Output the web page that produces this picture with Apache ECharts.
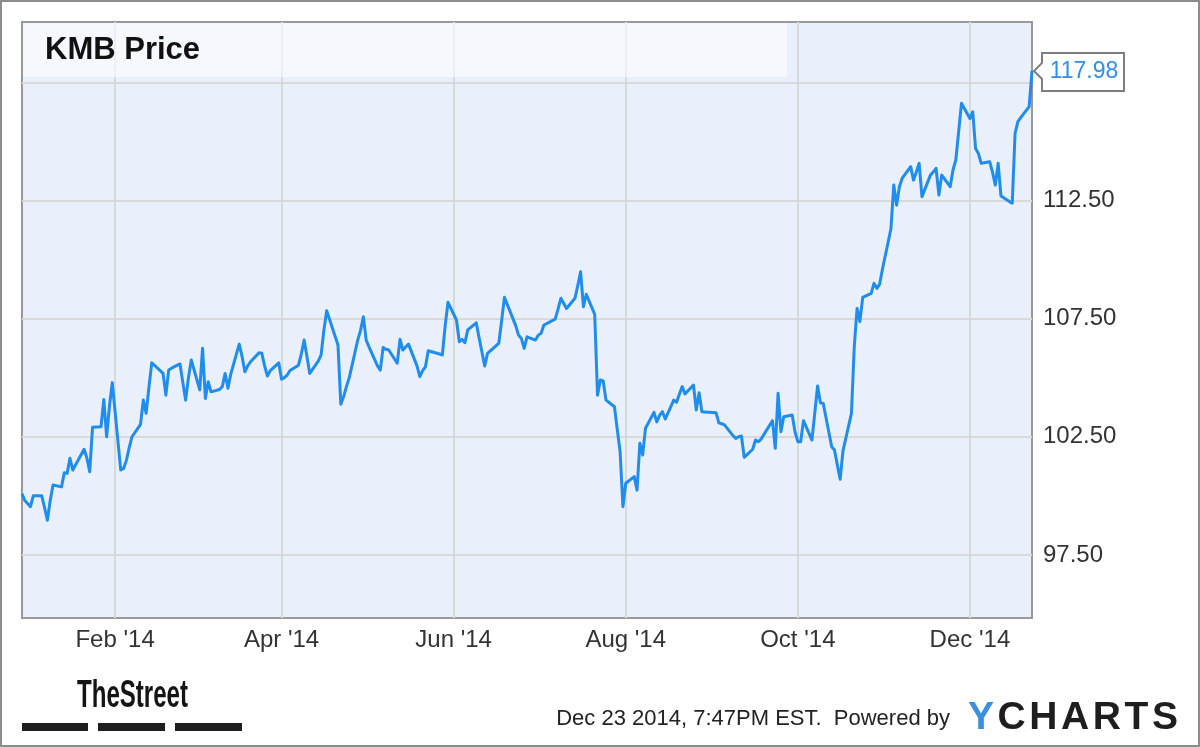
<!DOCTYPE html>
<html><head><meta charset="utf-8">
<script src="https://cdn.jsdelivr.net/npm/echarts@6/dist/echarts.min.js"></script>
<style>html,body{margin:0;padding:0;background:#fff;}#c{width:1200px;height:747px;}</style>
</head><body><div id="c"></div>
<script>
// ---------- DATA ----------
const chartTitle = 'KMB Price';
const startDate = '2013-12-30';
const endDate = '2014-12-23';
const holidays = ['2014-01-01','2014-01-20','2014-02-17','2014-04-18','2014-05-26','2014-07-04','2014-09-01','2014-11-27','2014-12-25'];

const dec13 = [100.08, 99.8];
const jan14 = [99.54, 100.0, 100.0, 99.5, 98.97, 99.8, 100.46, 100.38, 100.98, 100.95, 101.59, 101.09, 101.97, 101.6, 101.02, 102.9, 102.92, 104.08, 102.5, 103.8, 104.79];
const feb14 = [101.09, 101.16, 101.5, 102.04, 102.5, 103.02, 104.05, 103.49, 104.6, 105.63, 105.18, 104.26, 105.32, 105.4, 105.58, 104.8, 104.05, 105.0, 105.75];
const mar14 = [104.48, 106.24, 104.12, 104.83, 104.4, 104.5, 104.62, 105.18, 104.55, 105.15, 106.42, 105.9, 105.25, 105.5, 105.67, 106.05, 106.03, 105.5, 105.07, 105.3, 105.63];
const apr14 = [104.93, 105.0, 105.11, 105.3, 105.53, 106.0, 106.59, 105.9, 105.18, 105.7, 105.95, 107.0, 107.83, 106.38, 103.88, 104.2, 104.62, 105.0, 106.59, 107.0, 107.58];
const may14 = [106.59, 106.3, 105.5, 105.32, 106.28, 106.2, 106.17, 105.61, 106.62, 106.17, 106.3, 106.42, 105.5, 105.04, 105.3, 105.46, 106.14, 106.0, 105.96, 107.2, 108.19];
const jun14 = [107.44, 106.52, 106.62, 106.48, 107.02, 107.32, 106.7, 106.1, 105.49, 106.03, 106.35, 106.45, 107.4, 108.4, 108.1, 107.2, 106.8, 106.66, 106.24, 106.73, 106.59];
const jul14 = [106.8, 106.88, 107.23, 107.48, 107.9, 108.36, 108.15, 107.93, 108.36, 108.9, 109.48, 108.0, 108.53, 107.68, 104.26, 104.9, 104.86, 104.05, 103.77, 102.8, 101.87, 99.54];
const aug14 = [100.53, 100.81, 100.24, 102.22, 101.73, 102.86, 103.53, 103.13, 103.4, 103.56, 103.25, 104.05, 103.96, 104.3, 104.62, 104.31, 104.69, 103.63, 104.36, 103.56, 103.55];
const sep14 = [103.52, 103.09, 103.05, 103.0, 102.55, 102.43, 102.5, 102.53, 101.63, 101.97, 102.36, 102.29, 102.4, 102.6, 103.18, 102.01, 104.34, 102.71, 103.35, 103.42, 102.7];
const oct14 = [102.29, 102.29, 103.18, 102.36, 103.5, 104.65, 103.94, 103.91, 102.08, 101.94, 101.3, 100.7, 101.9, 103.49, 106.31, 107.93, 107.37, 108.4, 108.57, 108.99, 108.78, 108.96, 109.6];
const nov14 = [111.3, 113.15, 112.3, 113.08, 113.44, 113.93, 113.36, 113.7, 114.07, 112.66, 113.57, 113.7, 113.86, 112.73, 113.57, 113.08, 113.79, 114.21, 116.61];
const dec14 = [115.97, 116.25, 114.7, 114.49, 114.07, 114.14, 113.7, 113.15, 114.07, 112.69, 112.45, 112.38, 115.34, 115.83, 116.0, 116.47, 117.98];

const xTickDates = ['2014-02-01','2014-04-01','2014-06-01','2014-08-01','2014-10-01','2014-12-01'];
const xTickLabels = ["Feb '14","Apr '14","Jun '14","Aug '14","Oct '14","Dec '14"];
const yGridValues = [97.5, 102.5, 107.5, 112.5, 117.5];
const yLabelValues = [97.5, 102.5, 107.5, 112.5];
const yMin = 94.83, yMax = 120.05;
const footerText = 'Dec 23 2014, 7:47PM EST.  Powered by';
const brandLeft = 'TheStreet';
const brandRight = 'YCHARTS';

// ---------- BUILD ----------
const prices = [].concat(dec13, jan14, feb14, mar14, apr14, may14, jun14, jul14, aug14, sep14, oct14, nov14, dec14);
function ts(s){ const p = s.split('-').map(Number); return new Date(p[0], p[1]-1, p[2]).getTime(); }
function key(d){ return d.getFullYear()+'-'+String(d.getMonth()+1).padStart(2,'0')+'-'+String(d.getDate()).padStart(2,'0'); }
const tradingDays = [];
for (let d = new Date(ts(startDate)); d.getTime() <= ts(endDate); d.setDate(d.getDate()+1)) {
  const w = d.getDay();
  if (w === 0 || w === 6 || holidays.includes(key(d))) continue;
  tradingDays.push(d.getTime());
}
const seriesData = tradingDays.map((t, i) => [t, prices[i]]);
const xTicks = xTickDates.map(ts);
const FONT = '"Liberation Sans", Arial, Helvetica, sans-serif';

const chart = echarts.init(document.getElementById('c'), null, {renderer: 'canvas'});

const ctx = document.createElement('canvas').getContext('2d');
function measure(text, font){ ctx.font = font; return ctx.measureText(text).width; }

// YCHARTS letters spaced across a fixed span
const ycFont = 'bold 39px ' + FONT;
const ycLeft = 968, ycRight = 1178;
const ycWidths = brandRight.split('').map(ch => measure(ch, ycFont));
const ycGap = (ycRight - ycLeft - ycWidths.reduce((a,b)=>a+b,0)) / (brandRight.length - 1);
const ycElems = [];
let cx = ycLeft;
brandRight.split('').forEach((ch, i) => {
  ycElems.push({type:'text', id:'yc'+i, x: cx, y: 718, z: 20,
    style:{text: ch, font: ycFont, fill: i === 0 ? '#3b8fe3' : '#1e1e1e', textAlign:'left', textVerticalAlign:'middle'}});
  cx += ycWidths[i] + ycGap;
});

const tsFont = 'bold 38px ' + FONT;
const tsScale = 111 / measure(brandLeft, tsFont);

const option = {
  animation: false,
  backgroundColor: '#ffffff',
  grid: {left: 22, top: 22, right: 168, bottom: 129, show: true, backgroundColor: '#e9f0fb', borderColor: '#999999', borderWidth: 2},
  xAxis: {
    type: 'value', min: ts(startDate), max: ts(endDate),
    axisLine: {show: false},
    axisTick: {show: false, customValues: xTicks},
    axisLabel: {customValues: xTicks, hideOverlap: false, color: '#333', fontSize: 24, fontFamily: FONT, margin: 10,
      formatter: function (v) { for (let i = 0; i < xTicks.length; i++) { if (Math.abs(xTicks[i] - v) < 3600000*13) return xTickLabels[i]; } return ''; }},
    splitLine: {show: true, lineStyle: {color: '#d9d9d9', width: 2}}
  },
  yAxis: {
    type: 'value', position: 'right', min: yMin, max: yMax,
    axisLine: {show: false},
    axisTick: {show: false, customValues: yGridValues},
    axisLabel: {customValues: yLabelValues, color: '#333', fontSize: 24, fontFamily: FONT, margin: 11,
      formatter: v => Number(v).toFixed(2)},
    splitLine: {show: true, lineStyle: {color: '#d9d9d9', width: 2}}
  },
  series: [{
    type: 'line', data: seriesData, symbol: 'none', showSymbol: false, z: 5,
    lineStyle: {color: '#1f8ded', width: 3, join: 'round'}
  }],
  graphic: {elements: [
    {type:'rect', id:'outer', shape:{x:1, y:1, width:1198, height:745}, style:{fill:'none', stroke:'#8c8c8c', lineWidth:2}, z: 30, silent: true},
    {type:'rect', id:'band', shape:{x:23, y:23, width:764, height:54}, style:{fill:'rgba(255,255,255,0.55)'}, z: 1, silent: true},
    {type:'text', id:'title', x: 45, y: 50, z: 20, style:{text: chartTitle, font: 'bold 31px ' + FONT, fill:'#111', textAlign:'left', textVerticalAlign:'middle'}},
    {type:'text', id:'footer', x: 950, y: 719, z: 20, style:{text: footerText, font: '22px ' + FONT, fill:'#222', textAlign:'right', textVerticalAlign:'middle'}},
    {type:'text', id:'thestreet', x: 77, y: 697, scaleX: tsScale, z: 20, style:{text: brandLeft, font: tsFont, fill:'#141414', textAlign:'left', textVerticalAlign:'middle'}},
    {type:'rect', id:'bar1', shape:{x:22, y:723, width:66, height:8}, style:{fill:'#1e1e1e'}, z: 20},
    {type:'rect', id:'bar2', shape:{x:98, y:723, width:67, height:8}, style:{fill:'#1e1e1e'}, z: 20},
    {type:'rect', id:'bar3', shape:{x:175, y:723, width:67, height:8}, style:{fill:'#1e1e1e'}, z: 20}
  ].concat(ycElems)}
};
chart.setOption(option);

// Callout for the last value, positioned from the axis scales
const last = seriesData[seriesData.length - 1];
const p = chart.convertToPixel({gridIndex: 0}, last);
const px = p[0], py = p[1];
const bx = px + 10, bw = 82, bh = 38, by = py - 18;
chart.setOption({graphic: {elements: [
  {type:'polygon', id:'callout', z: 25, shape:{points:[[bx,by],[bx+bw,by],[bx+bw,by+bh],[bx,by+bh],[bx,py+8],[px+2,py],[bx,py-8]]},
    style:{fill:'#ffffff', stroke:'#7d7d7d', lineWidth:2}},
  {type:'text', id:'calloutText', z: 26, x: bx + bw/2 + 1, y: py + 1, style:{text: last[1].toFixed(2), font: '23px ' + FONT, fill:'#2f8fe6', textAlign:'center', textVerticalAlign:'middle'}}
]}});
</script>
</body></html>
